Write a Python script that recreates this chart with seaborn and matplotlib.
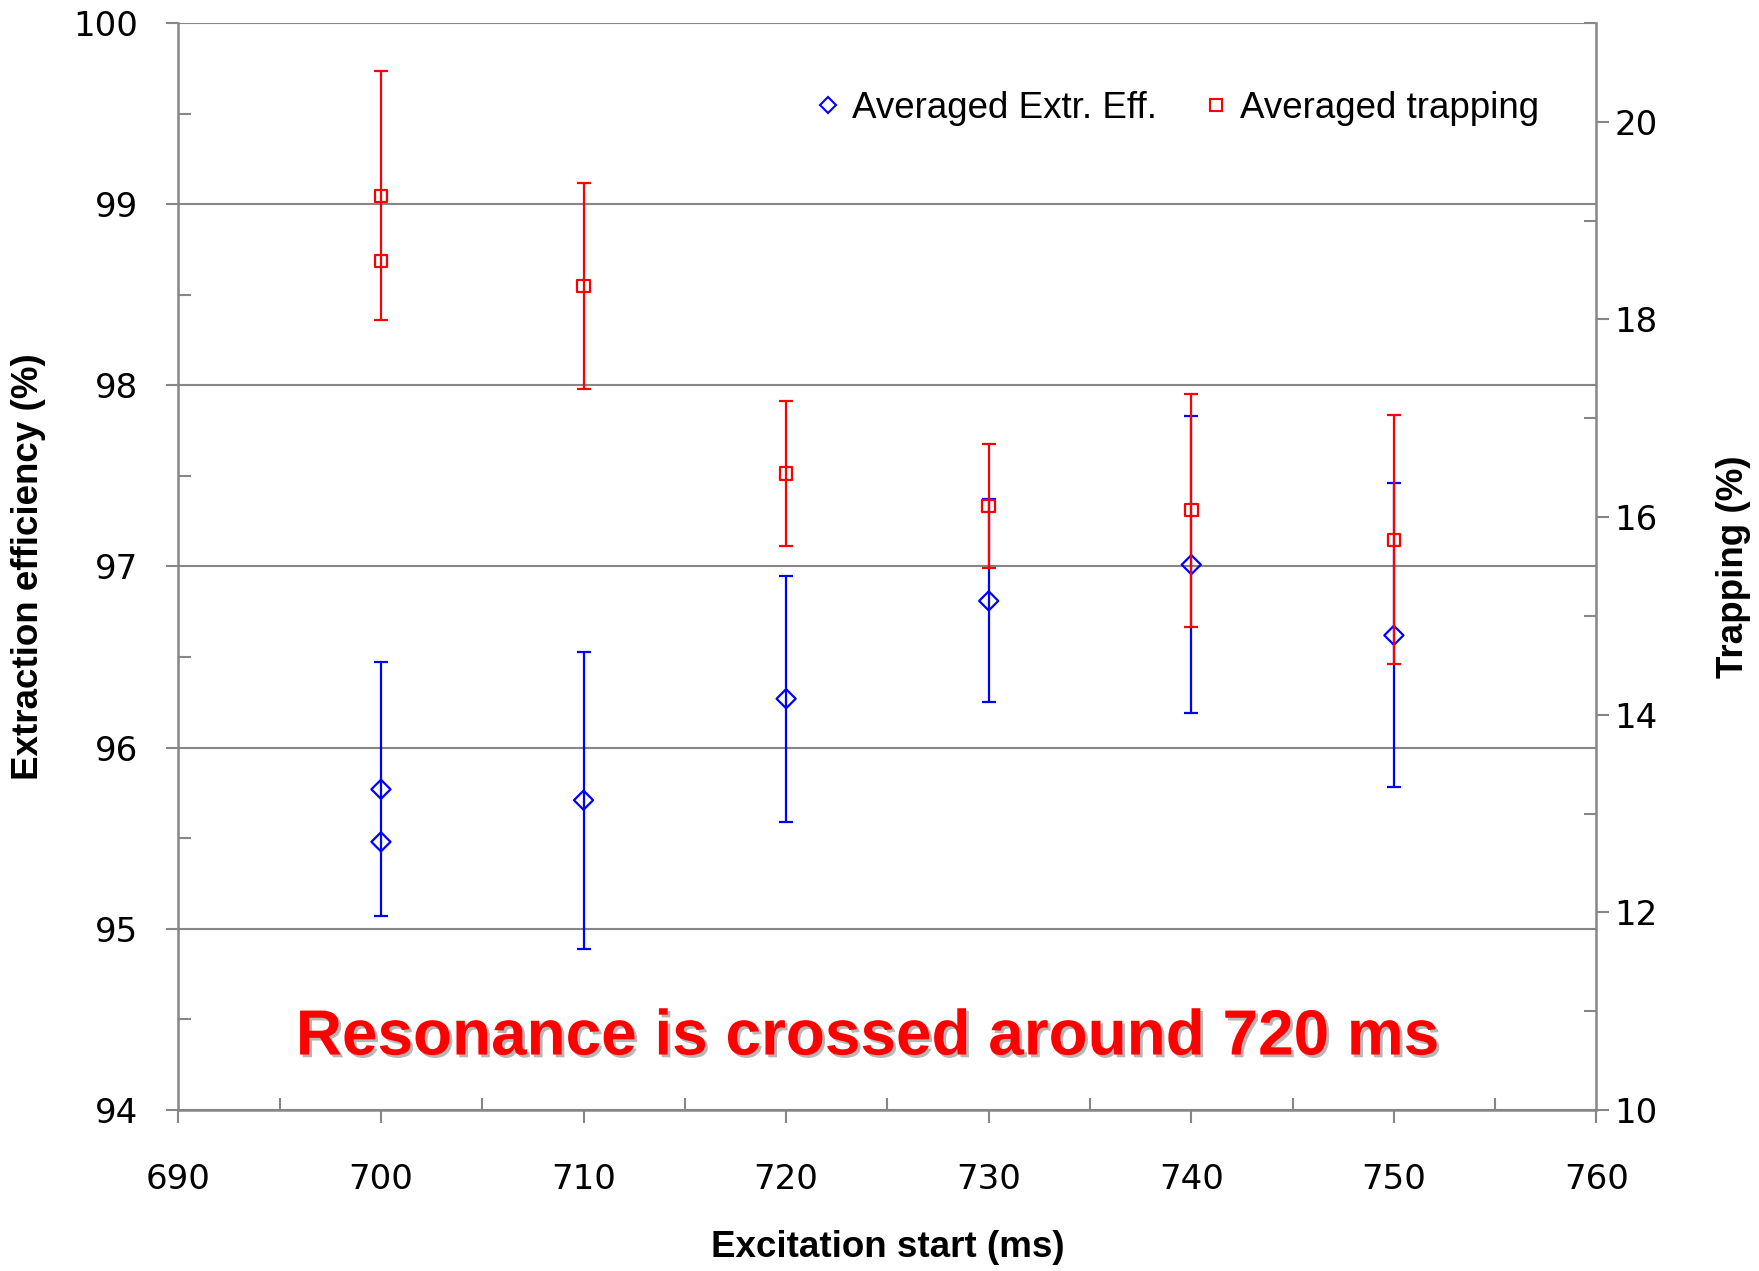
import numpy as np
import pandas as pd
import matplotlib
matplotlib.use("Agg")
import matplotlib.pyplot as plt
import seaborn as sns
from matplotlib.lines import Line2D
from matplotlib.ticker import MultipleLocator
import matplotlib.patheffects as pe

# ---- data ----
excitation_ms = [700, 700, 710, 720, 730, 740, 750]
extr_eff = [95.77, 95.48, 95.71, 96.27, 96.81, 97.01, 96.62]
extr_err = [0.70, np.nan, 0.82, 0.68, 0.56, 0.82, 0.84]
trapping = [19.25, 18.59, 18.34, 16.44, 16.11, 16.07, 15.77]
trap_err = [1.26, np.nan, 1.04, 0.73, 0.63, 1.18, 1.26]

x_ticks = [690, 700, 710, 720, 730, 740, 750, 760]
left_ticks = [94, 95, 96, 97, 98, 99, 100]
right_ticks = [10, 12, 14, 16, 18, 20]

series_labels = ["Averaged Extr. Eff.", "Averaged trapping"]
annotation = "Resonance is crossed around 720 ms"

BLUE = "#0000FF"
RED = "#FF0000"
GRAY = "#868686"

df = pd.DataFrame({"excitation": excitation_ms, "extr": extr_eff, "extr_err": extr_err,
                   "trap": trapping, "trap_err": trap_err})

sns.set_style("white")
plt.rcParams['font.family'] = ['DejaVu Sans']
plt.rcParams['text.color'] = 'black'
plt.rcParams['axes.labelcolor'] = 'black'
plt.rcParams['xtick.labelcolor'] = 'black'
plt.rcParams['ytick.labelcolor'] = 'black'

fig = plt.figure(figsize=(17.59, 12.71), dpi=100)
ax = fig.add_axes([0.1014, 0.1267, 0.8062, 0.8552])
ax2 = ax.twinx()

# error bars
m1 = df["extr_err"].notna()
ax.errorbar(df.loc[m1, "excitation"], df.loc[m1, "extr"], yerr=df.loc[m1, "extr_err"],
            fmt="none", ecolor=BLUE, elinewidth=1.6, capsize=5, capthick=1.6, zorder=3)
m2 = df["trap_err"].notna()
ax2.errorbar(df.loc[m2, "excitation"], df.loc[m2, "trap"], yerr=df.loc[m2, "trap_err"],
             fmt="none", ecolor=RED, elinewidth=1.6, capsize=5, capthick=1.6, zorder=3)

# markers via seaborn
sns.scatterplot(data=df, x="excitation", y="extr", ax=ax, marker="D", s=95,
                facecolor="none", edgecolor=BLUE, linewidth=1.6, legend=False, zorder=4)
sns.scatterplot(data=df, x="excitation", y="trap", ax=ax2, marker="s", s=80,
                facecolor="none", edgecolor=RED, linewidth=1.6, legend=False, zorder=4)

# axes limits / ticks
ax.set_xlim(690, 760)
ax.set_ylim(94, 100)
ax2.set_ylim(10, 21)
ax.set_xticks(x_ticks)
ax.set_yticks(left_ticks)
ax2.set_yticks(right_ticks)
ax.xaxis.set_minor_locator(MultipleLocator(5))
ax.yaxis.set_minor_locator(MultipleLocator(0.5))
ax2.yaxis.set_minor_locator(MultipleLocator(1))

ax.grid(axis="y", which="major", color=GRAY, linewidth=1.5)
ax.grid(axis="x", visible=False)
ax.set_axisbelow(True)

for a in (ax, ax2):
    for s in a.spines.values():
        s.set_visible(False)
ax.spines["left"].set_visible(True)
ax.spines["bottom"].set_visible(True)
ax2.spines["right"].set_visible(True)
for s in (ax.spines["left"], ax.spines["bottom"], ax2.spines["right"]):
    s.set_color(GRAY)
    s.set_linewidth(1.8)

TL = 24.5
ax.tick_params(axis="y", which="major", direction="out", length=9, width=1.5, color=GRAY,
               labelsize=TL, pad=20, left=True)
ax.tick_params(axis="y", which="minor", direction="in", length=9, width=1.5, color=GRAY, left=True)
ax.tick_params(axis="x", which="major", direction="out", length=9, width=1.5, color=GRAY,
               labelsize=TL, pad=29, bottom=True)
ax.tick_params(axis="x", which="minor", direction="in", length=9, width=1.5, color=GRAY, bottom=True)
ax2.tick_params(axis="y", which="major", direction="out", length=9, width=1.5, color=GRAY,
                labelsize=TL, pad=4, right=True)
ax2.tick_params(axis="y", which="minor", direction="in", length=9, width=1.5, color=GRAY, right=True)

label_font = dict(family=["Liberation Sans Narrow", "Liberation Sans"], weight="bold", size=26.5)
ax.set_xlabel("Excitation start (ms)", **label_font)
ax.set_ylabel("Extraction efficiency (%)", **label_font)
ax2.set_ylabel("Trapping (%)", **label_font)
ax.xaxis.set_label_coords(0.5, -0.11)
ax.yaxis.set_label_coords(-0.093, 0.4995)
ax2.yaxis.set_label_coords(1.084, 0.5)

# legend
handles = [
    Line2D([], [], marker="D", ls="none", mfc="none", mec=BLUE, ms=8, mew=1.5, label=series_labels[0]),
    Line2D([], [], marker="s", ls="none", mfc="none", mec=RED, ms=8, mew=1.5, label=series_labels[1]),
]
fig.legend(handles=handles, loc="center", bbox_to_anchor=(0.6675, 0.915), ncol=2, frameon=False,
           prop=dict(family=["Liberation Sans Narrow", "Liberation Sans"], size=26.5),
           handletextpad=0.15, columnspacing=1.1, handlelength=1.0)

# annotation
ax.text(0.486, 0.051, annotation, transform=ax.transAxes, ha="center", va="baseline",
        color=RED, fontsize=46, fontweight="bold", family=["Liberation Sans"],
        path_effects=[pe.withSimplePatchShadow(offset=(2, -2), shadow_rgbFace="#888888", alpha=0.6)])

fig.savefig("out.png", dpi=100)
